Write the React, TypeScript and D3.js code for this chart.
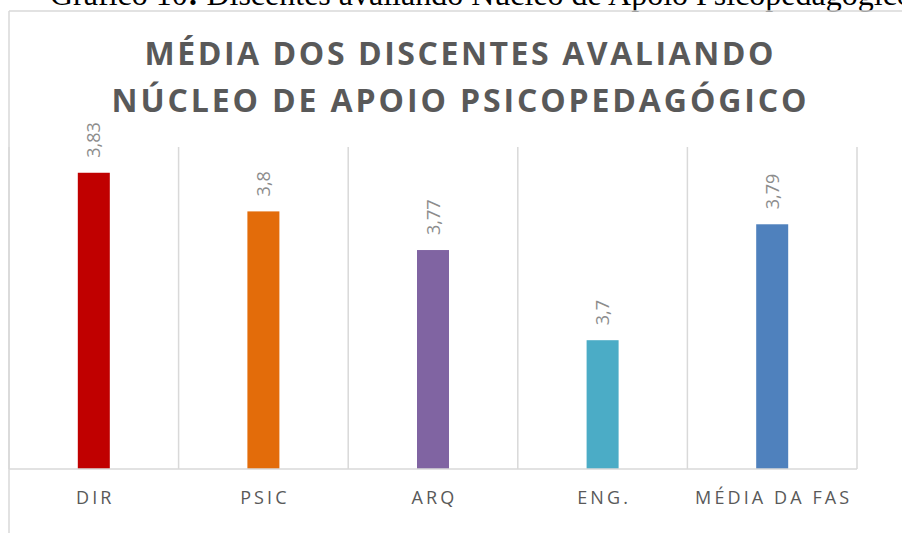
import React, { useEffect, useRef } from "react";
import * as d3 from "d3";

const categories = ["DIR", "PSIC", "ARQ", "ENG.", "MÉDIA DA FAS"];
const values = [3.83, 3.8, 3.77, 3.7, 3.79];
const valueLabels = ["3,83", "3,8", "3,77", "3,7", "3,79"];
const barColors = ["#C00000", "#E36C0A", "#8064A2", "#4BACC6", "#4F81BD"];
const yDomain = [3.6, 3.85];
const titleLines = ["MÉDIA DOS DISCENTES AVALIANDO", "NÚCLEO DE APOIO PSICOPEDAGÓGICO"];
const caption = "Gráfico 10: Discentes avaliando Núcleo de Apoio Psicopedagógico";

const W = 902;
const H = 533;

export default function App() {
  const ref = useRef<SVGSVGElement | null>(null);

  useEffect(() => {
    const svg = d3.select(ref.current);
    svg.selectAll("*").remove();

    const plotLeft = 9;
    const plotRight = 857;
    const plotTop = 147;
    const plotBottom = 469;

    const x = d3.scaleBand<string>().domain(categories).range([plotLeft, plotRight]).paddingInner(0).paddingOuter(0);
    const y = d3.scaleLinear().domain(yDomain).range([plotBottom, plotTop]);
    const barW = 32;

    // caption (partially cut off at top, as in the source page)
    const cap = svg.append("text")
      .attr("x", 50)
      .attr("y", 5)
      .attr("font-family", "'Liberation Serif', 'Times New Roman', serif")
      .attr("font-size", 32)
      .attr("fill", "#000");
    cap.append("tspan").text("Gráfico 10");
    cap.append("tspan").attr("font-weight", "bold").text(":");
    cap.append("tspan").text(caption.slice(caption.indexOf(":") + 1));

    // chart frame
    svg.append("line").attr("x1", 9).attr("x2", W).attr("y1", 11).attr("y2", 11)
      .attr("stroke", "#d9d9d9").attr("stroke-width", 1.5);
    svg.append("line").attr("x1", 9).attr("x2", 9).attr("y1", 11).attr("y2", H)
      .attr("stroke", "#d9d9d9").attr("stroke-width", 1.5);

    // title
    const titleWidths = [629, 695];
    titleLines.forEach((t, i) => {
      svg.append("text")
        .attr("x", 459)
        .attr("y", 65 + i * 47)
        .attr("text-anchor", "middle")
        .attr("font-family", "'Open Sans', sans-serif")
        .attr("font-weight", "bold")
        .attr("font-size", 32)
        .attr("textLength", titleWidths[i])
        .attr("lengthAdjust", "spacing")
        .attr("fill", "#595959")
        .text(t);
    });

    // vertical gridlines (category boundaries)
    const bounds = categories.map((c) => x(c) as number).concat([plotRight]);
    svg.append("g").selectAll("line").data(bounds).join("line")
      .attr("x1", (d) => d).attr("x2", (d) => d)
      .attr("y1", plotTop).attr("y2", plotBottom)
      .attr("stroke", "#d9d9d9").attr("stroke-width", 1.5);

    // bars
    svg.append("g").selectAll("rect").data(values).join("rect")
      .attr("x", (_d, i) => (x(categories[i]) as number) + x.bandwidth() / 2 - barW / 2)
      .attr("y", (d) => y(d))
      .attr("width", barW)
      .attr("height", (d) => plotBottom - y(d))
      .attr("fill", (_d, i) => barColors[i]);

    // baseline
    svg.append("line").attr("x1", plotLeft).attr("x2", plotRight)
      .attr("y1", plotBottom).attr("y2", plotBottom)
      .attr("stroke", "#d9d9d9").attr("stroke-width", 1.5);

    // value labels (rotated)
    svg.append("g").selectAll("text").data(values).join("text")
      .attr("transform", (d, i) => {
        const cx = (x(categories[i]) as number) + x.bandwidth() / 2;
        return `translate(${cx + 6.5},${y(d) - 15}) rotate(-90)`;
      })
      .attr("text-anchor", "start")
      .attr("font-family", "'Open Sans', sans-serif")
      .attr("font-size", 18)
      .attr("fill", "#8c8c8c")
      .text((_d, i) => valueLabels[i]);

    // category labels
    svg.append("g").selectAll("text").data(categories).join("text")
      .attr("x", (d) => (x(d) as number) + x.bandwidth() / 2 + 1.5)
      .attr("y", 504)
      .attr("text-anchor", "middle")
      .attr("font-family", "'Open Sans', sans-serif")
      .attr("font-size", 18)
      .attr("letter-spacing", 3.1)
      .attr("fill", "#595959")
      .text((d) => d);
  }, []);

  return (
    <svg
      ref={ref}
      width={W}
      height={H}
      style={{ position: "absolute", left: 0, top: 0, background: "#fff" }}
    />
  );
}
